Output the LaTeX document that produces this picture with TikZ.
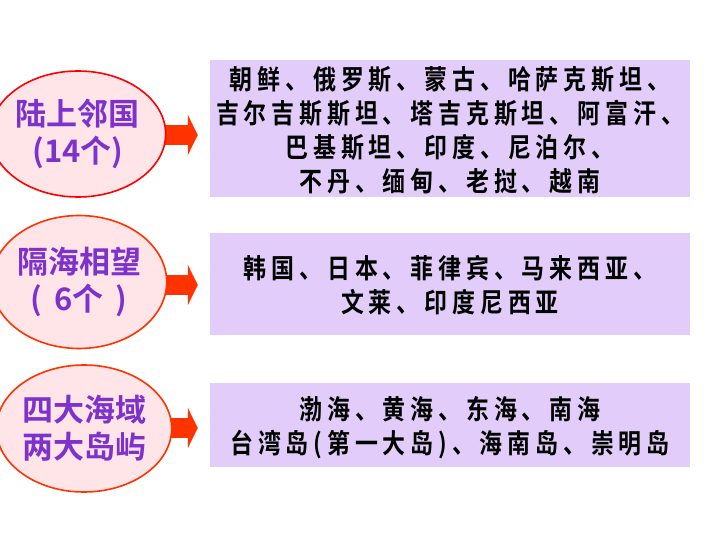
\documentclass[tikz,border=0pt]{standalone}
\usepackage{fontspec}
\usepackage{tikz}
\usetikzlibrary{positioning,arrows.meta,shapes.geometric}
\newfontfamily\cjk{Noto Sans CJK SC}[BoldFont={Noto Sans CJK SC Bold}]
\newfontfamily\cjkbox{Noto Sans CJK SC Bold}[FakeStretch=0.85,LetterSpace=18]
\definecolor{labelpurple}{RGB}{125,50,205}
\definecolor{boxlilac}{RGB}{226,205,250}
\definecolor{ovalpink}{RGB}{255,228,232}
\definecolor{arrowred}{RGB}{255,51,0}

\begin{document}
\begin{tikzpicture}[x=1pt, y=-1pt,
    oval/.style={ellipse, draw=arrowred, line width=1.6pt, fill=ovalpink, inner sep=0pt,
      align=center, text=labelpurple, font=\cjk\bfseries\fontsize{31}{37}\selectfont},
    listbox/.style={rectangle, fill=boxlilac, minimum width=480pt, align=center,
      font=\cjkbox\fontsize{27}{34}\selectfont, text depth=0pt},
    bigarrow/.style={draw=arrowred, line width=20pt, shorten >=12pt,
      -{Triangle[length=10pt, width=40pt]}}]
                \useasboundingbox (0,0) rectangle (720,540);
                % lists of countries, seas and islands
                \node[listbox, minimum height=137pt] (b1) at (450,128.5)
                  {朝鲜、俄罗斯、蒙古、哈萨克斯坦、\\吉尔吉斯斯坦、塔吉克斯坦、阿富汗、\\巴基斯坦、印度、尼泊尔、\\不丹、缅甸、老挝、越南};
                \node[listbox, minimum height=102pt] (b2) at (450,284)
                  {韩国、日本、菲律宾、马来西亚、\\文莱、印度尼西亚};
                \node[listbox, minimum height=84pt] (b3) at (450,425)
                  {渤海、黄海、东海、南海\\台湾岛(第一大岛)、海南岛、崇明岛};
                % arrows
                \coordinate (a1) at (155,135);
                \coordinate (a2) at (155,285);
                \coordinate (a3) at (153,428);
                \draw[bigarrow] (a1) -- (a1 -| b1.west);
                \draw[bigarrow] (a2) -- (a2 -| b2.west);
                \draw[bigarrow] (a3) -- (a3 -| b3.west);
                % ovals
                \node[oval, draw=red, minimum width=156pt, minimum height=126pt] (e1) at (78,134)
                  {陆上邻国\\(14个)};
                \node[oval, minimum width=157pt, minimum height=133pt] (e2) at (79,282)
                  {隔海相望\\(\hspace{12pt}6个\hspace{12pt})};
                \node[oval, minimum width=143pt, minimum height=127pt] (e3) at (84,428.5)
                  {四大海域\\两大岛屿};
        \end{tikzpicture}
\end{document}
